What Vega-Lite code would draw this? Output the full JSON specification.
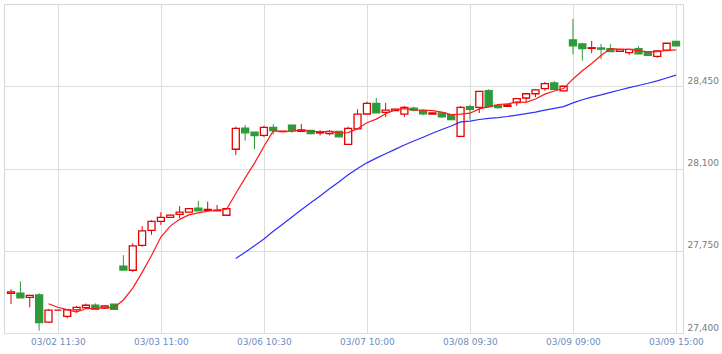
{
"$schema": "https://vega.github.io/schema/vega-lite/v6.json",
"width": 679, "height": 329,
"autosize": {"type": "none"},
"padding": {"left": 4, "top": 4, "right": 39, "bottom": 21},
"background": "white",
"config": {"view": {"stroke": "#d6d6d6", "strokeWidth": 1}, "font": "DejaVu Sans"},
"data": {"values": [
{"t":"03/02 09:00","o":27569,"h":27586,"l":27523,"c":27575,"ma5":null,"ma25":null},
{"t":"03/02 09:30","o":27570,"h":27620,"l":27550,"c":27550,"ma5":null,"ma25":null},
{"t":"03/02 10:00","o":27552,"h":27560,"l":27509,"c":27560,"ma5":null,"ma25":null},
{"t":"03/02 10:30","o":27562,"h":27569,"l":27410,"c":27444,"ma5":null,"ma25":null},
{"t":"03/02 11:00","o":27446,"h":27502,"l":27446,"c":27497,"ma5":27524.6,"ma25":null},
{"t":"03/02 11:30","o":27497,"h":27497,"l":27497,"c":27497,"ma5":27509.6,"ma25":null},
{"t":"03/02 12:30","o":27471,"h":27502,"l":27463,"c":27499,"ma5":27499.4,"ma25":null},
{"t":"03/02 13:00","o":27498,"h":27515,"l":27489,"c":27509,"ma5":27489.2,"ma25":null},
{"t":"03/02 13:30","o":27508,"h":27525,"l":27508,"c":27518,"ma5":27504.0,"ma25":null},
{"t":"03/02 14:00","o":27518,"h":27526,"l":27501,"c":27501,"ma5":27504.8,"ma25":null},
{"t":"03/02 14:30","o":27506,"h":27519,"l":27502,"c":27515,"ma5":27508.4,"ma25":null},
{"t":"03/02 15:00","o":27523,"h":27523,"l":27501,"c":27501,"ma5":27508.8,"ma25":null},
{"t":"03/03 09:00","o":27685,"h":27731,"l":27668,"c":27668,"ma5":27540.6,"ma25":null},
{"t":"03/03 09:30","o":27667,"h":27782,"l":27660,"c":27771,"ma5":27591.2,"ma25":null},
{"t":"03/03 10:00","o":27773,"h":27855,"l":27767,"c":27835,"ma5":27658.0,"ma25":null},
{"t":"03/03 10:30","o":27837,"h":27880,"l":27818,"c":27875,"ma5":27730.0,"ma25":null},
{"t":"03/03 11:00","o":27875,"h":27914,"l":27860,"c":27892,"ma5":27808.2,"ma25":null},
{"t":"03/03 11:30","o":27892,"h":27904,"l":27892,"c":27902,"ma5":27855.0,"ma25":null},
{"t":"03/03 12:30","o":27905,"h":27940,"l":27889,"c":27914,"ma5":27883.6,"ma25":null},
{"t":"03/03 13:00","o":27914,"h":27932,"l":27914,"c":27929,"ma5":27902.4,"ma25":null},
{"t":"03/03 13:30","o":27931,"h":27962,"l":27920,"c":27920,"ma5":27911.4,"ma25":null},
{"t":"03/03 14:00","o":27922,"h":27959,"l":27922,"c":27926,"ma5":27918.2,"ma25":null},
{"t":"03/03 14:30","o":27920,"h":27945,"l":27918,"c":27923,"ma5":27922.4,"ma25":null},
{"t":"03/03 15:00","o":27901,"h":27931,"l":27901,"c":27929,"ma5":27925.4,"ma25":null},
{"t":"03/06 09:00","o":28182,"h":28278,"l":28157,"c":28271,"ma5":27993.8,"ma25":27716.7},
{"t":"03/06 09:30","o":28272,"h":28285,"l":28218,"c":28252,"ma5":28060.2,"ma25":27743.9},
{"t":"03/06 10:00","o":28255,"h":28255,"l":28182,"c":28240,"ma5":28123.0,"ma25":27771.5},
{"t":"03/06 10:30","o":28241,"h":28281,"l":28234,"c":28275,"ma5":28193.4,"ma25":27800.1},
{"t":"03/06 11:00","o":28275,"h":28289,"l":28244,"c":28261,"ma5":28259.8,"ma25":27832.8},
{"t":"03/06 11:30","o":28257,"h":28259,"l":28257,"c":28259,"ma5":28257.2,"ma25":27863.2},
{"t":"03/06 12:30","o":28285,"h":28285,"l":28252,"c":28260,"ma5":28258.8,"ma25":27893.8},
{"t":"03/06 13:00","o":28258,"h":28289,"l":28256,"c":28264,"ma5":28263.6,"ma25":27924.4},
{"t":"03/06 13:30","o":28262,"h":28263,"l":28245,"c":28248,"ma5":28258.2,"ma25":27953.9},
{"t":"03/06 14:00","o":28251,"h":28263,"l":28241,"c":28253,"ma5":28256.6,"ma25":27983.3},
{"t":"03/06 14:30","o":28248,"h":28264,"l":28241,"c":28258,"ma5":28256.6,"ma25":28013.6},
{"t":"03/06 15:00","o":28258,"h":28258,"l":28235,"c":28235,"ma5":28251.6,"ma25":28042.4},
{"t":"03/07 09:00","o":28203,"h":28278,"l":28203,"c":28271,"ma5":28253.0,"ma25":28073.2},
{"t":"03/07 09:30","o":28269,"h":28352,"l":28267,"c":28331,"ma5":28269.6,"ma25":28099.7},
{"t":"03/07 10:00","o":28332,"h":28384,"l":28332,"c":28377,"ma5":28294.4,"ma25":28124.0},
{"t":"03/07 10:30","o":28377,"h":28400,"l":28337,"c":28337,"ma5":28310.2,"ma25":28144.0},
{"t":"03/07 11:00","o":28339,"h":28379,"l":28319,"c":28348,"ma5":28332.8,"ma25":28163.0},
{"t":"03/07 11:30","o":28346,"h":28355,"l":28345,"c":28353,"ma5":28349.2,"ma25":28181.4},
{"t":"03/07 12:30","o":28331,"h":28366,"l":28320,"c":28360,"ma5":28355.0,"ma25":28199.7},
{"t":"03/07 13:00","o":28357,"h":28363,"l":28343,"c":28348,"ma5":28349.2,"ma25":28217.1},
{"t":"03/07 13:30","o":28346,"h":28352,"l":28326,"c":28333,"ma5":28348.4,"ma25":28233.2},
{"t":"03/07 14:00","o":28331,"h":28338,"l":28330,"c":28337,"ma5":28346.2,"ma25":28249.9},
{"t":"03/07 14:30","o":28337,"h":28337,"l":28316,"c":28320,"ma5":28339.6,"ma25":28265.7},
{"t":"03/07 15:00","o":28329,"h":28330,"l":28306,"c":28308,"ma5":28329.2,"ma25":28281.1},
{"t":"03/08 09:00","o":28237,"h":28366,"l":28233,"c":28360,"ma5":28331.6,"ma25":28298.3},
{"t":"03/08 09:30","o":28363,"h":28371,"l":28308,"c":28352,"ma5":28335.4,"ma25":28301.6},
{"t":"03/08 10:00","o":28360,"h":28430,"l":28336,"c":28428,"ma5":28353.6,"ma25":28308.6},
{"t":"03/08 10:30","o":28431,"h":28437,"l":28360,"c":28363,"ma5":28362.2,"ma25":28313.5},
{"t":"03/08 11:00","o":28369,"h":28372,"l":28356,"c":28359,"ma5":28372.4,"ma25":28316.9},
{"t":"03/08 11:30","o":28365,"h":28372,"l":28364,"c":28371,"ma5":28374.6,"ma25":28321.3},
{"t":"03/08 12:30","o":28380,"h":28400,"l":28366,"c":28397,"ma5":28383.6,"ma25":28326.8},
{"t":"03/08 13:00","o":28400,"h":28420,"l":28382,"c":28418,"ma5":28381.6,"ma25":28333.2},
{"t":"03/08 13:30","o":28418,"h":28438,"l":28404,"c":28435,"ma5":28396.0,"ma25":28340.0},
{"t":"03/08 14:00","o":28440,"h":28468,"l":28431,"c":28461,"ma5":28416.4,"ma25":28348.5},
{"t":"03/08 14:30","o":28464,"h":28472,"l":28437,"c":28437,"ma5":28429.6,"ma25":28355.9},
{"t":"03/08 15:00","o":28430,"h":28452,"l":28428,"c":28450,"ma5":28440.2,"ma25":28363.6},
{"t":"03/09 09:00","o":28647,"h":28736,"l":28586,"c":28622,"ma5":28481.0,"ma25":28379.0},
{"t":"03/09 09:30","o":28630,"h":28635,"l":28559,"c":28610,"ma5":28516.0,"ma25":28392.6},
{"t":"03/09 10:00","o":28611,"h":28643,"l":28591,"c":28614,"ma5":28546.6,"ma25":28403.9},
{"t":"03/09 10:30","o":28613,"h":28630,"l":28565,"c":28608,"ma5":28580.8,"ma25":28413.2},
{"t":"03/09 11:00","o":28610,"h":28629,"l":28597,"c":28597,"ma5":28610.2,"ma25":28423.6},
{"t":"03/09 11:30","o":28599,"h":28609,"l":28598,"c":28607,"ma5":28607.2,"ma25":28433.9},
{"t":"03/09 12:30","o":28593,"h":28608,"l":28582,"c":28607,"ma5":28606.6,"ma25":28444.1},
{"t":"03/09 13:00","o":28610,"h":28621,"l":28586,"c":28588,"ma5":28601.4,"ma25":28453.2},
{"t":"03/09 13:30","o":28596,"h":28597,"l":28580,"c":28582,"ma5":28596.2,"ma25":28462.6},
{"t":"03/09 14:00","o":28577,"h":28602,"l":28571,"c":28600,"ma5":28596.8,"ma25":28473.2},
{"t":"03/09 14:30","o":28604,"h":28634,"l":28603,"c":28633,"ma5":28602.0,"ma25":28485.1},
{"t":"03/09 15:00","o":28641,"h":28643,"l":28621,"c":28622,"ma5":28605.0,"ma25":28497.2}
]},
"encoding": {
  "x": {"field": "t", "type": "ordinal", "sort": null,
        "scale": {"type": "point", "padding": 0.75},
        "axis": {"values": ["03/02 11:30","03/03 11:00","03/06 10:30","03/07 10:00","03/08 09:30","03/09 09:00","03/09 15:00"],
                 "title": null, "domain": false, "ticks": false, "labelAngle": 0,
                 "labelColor": "#6f8cc0", "labelFont": "DejaVu Sans", "labelFontSize": 9, "labelPadding": 4,
                 "grid": true, "gridColor": "#dddddd", "gridWidth": 1}}
},
"layer": [
  {"mark": {"type": "rule", "strokeWidth": 1},
   "encoding": {
     "y": {"field": "l", "type": "quantitative",
           "scale": {"domain": [27400, 28800], "nice": false, "zero": false},
           "axis": {"orient": "right", "values": [27400, 27750, 28100, 28450], "format": ",d",
                    "title": null, "domain": false, "ticks": false,
                    "labelColor": "#7a7a7a", "labelFont": "DejaVu Sans", "labelFontSize": 9, "labelPadding": 4,
                    "labelBaseline": "alphabetic", "labelOffset": -3,
                    "grid": true, "gridColor": "#dddddd", "gridWidth": 1}},
     "y2": {"field": "h"},
     "color": {"condition": {"test": "datum.c < datum.o", "value": "#2e9a3a"}, "value": "#e60000"}
   }},
  {"mark": {"type": "bar", "size": 7, "strokeWidth": 1.3},
   "encoding": {
     "y": {"field": "o", "type": "quantitative", "axis": {"title": null}},
     "y2": {"field": "c"},
     "fill": {"condition": {"test": "datum.c < datum.o", "value": "#2e9a3a"}, "value": "#ffffff"},
     "stroke": {"condition": {"test": "datum.c < datum.o", "value": "#2e9a3a"}, "value": "#e60000"}
   }},
  {"mark": {"type": "line", "strokeWidth": 1.2, "color": "#ff1a1a"},
   "encoding": {"y": {"field": "ma5", "type": "quantitative", "axis": {"title": null}}}},
  {"mark": {"type": "line", "strokeWidth": 1.2, "color": "#2f2fff"},
   "encoding": {"y": {"field": "ma25", "type": "quantitative", "axis": {"title": null}}}}
]
}
